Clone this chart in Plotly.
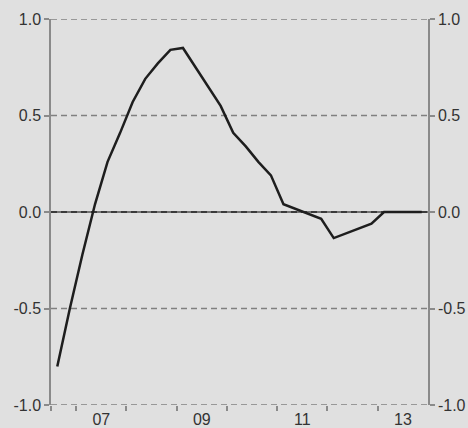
import plotly.graph_objects as go

# Quarterly observations, plotted at mid-quarter (2006 Q3 .. 2013 Q4)
start_year = 2006.625
values = [
    -0.80, -0.50, -0.22, 0.04, 0.26, 0.41, 0.57, 0.69, 0.77, 0.84,
    0.85, 0.75, 0.65, 0.55, 0.41, 0.34, 0.26, 0.19, 0.04, 0.015,
    -0.01, -0.035, -0.135, -0.11, -0.085, -0.06, 0.0, 0.0, 0.0, 0.0,
]
quarters = [start_year + 0.25 * i for i in range(len(values))]

year_ticks = [2006.5, 2007, 2008, 2009, 2010, 2011, 2012, 2013]
label_pos = [2007.5, 2009.5, 2011.5, 2013.5]
label_text = ["07", "09", "11", "13"]

y_ticks = [-1.0, -0.5, 0.0, 0.5, 1.0]
y_text = ["-1.0", "-0.5", "0.0", "0.5", "1.0"]
dashed_levels = [-1.0, -0.5, 0.5, 1.0]

bg = "#e0e0e0"
axis_col = "#8a8a8a"
grid_col = "#808080"
font = dict(family="Arial, Liberation Sans, sans-serif", size=16, color="#333333")

fig = go.Figure()
fig.add_trace(go.Scatter(
    x=quarters, y=values, mode="lines",
    line=dict(color="#1e1e1e", width=2.5),
    showlegend=False, hoverinfo="skip",
))
# invisible trace to activate the right-hand axis
fig.add_trace(go.Scatter(x=[quarters[0]], y=[0], yaxis="y2", mode="lines",
                         line=dict(width=0), showlegend=False, hoverinfo="skip"))

yaxis_common = dict(
    range=[-1, 1], tickvals=y_ticks, ticktext=y_text,
    showline=True, linecolor=axis_col, linewidth=1.5,
    ticks="outside", ticklen=5, tickcolor=axis_col, tickwidth=1.5,
    tickfont=font, zeroline=False, fixedrange=True, showgrid=False,
    automargin=False,
)

shapes = []
for lvl in dashed_levels:
    shapes.append(dict(type="line", xref="paper", yref="y", x0=0, x1=1,
                       y0=lvl, y1=lvl, layer="below",
                       line=dict(color=grid_col, width=1.5, dash="6px,4px")))
# zero line: solid grey base with darker dashes on top
shapes.append(dict(type="line", xref="paper", yref="y", x0=0, x1=1, y0=0, y1=0,
                   line=dict(color="#747474", width=2), layer="below"))
shapes.append(dict(type="line", xref="paper", yref="y", x0=0, x1=1, y0=0, y1=0,
                   line=dict(color="#3a3a3a", width=2, dash="6px,4px"), layer="below"))

fig.update_layout(
    width=468, height=428,
    margin=dict(l=51, r=40, t=19, b=23),
    paper_bgcolor=bg, plot_bgcolor=bg,
    xaxis=dict(
        range=[2006.5, 2014.0],
        tickvals=label_pos, ticktext=label_text, ticks="",
        tickfont=font, showgrid=False, zeroline=False, showline=False,
        automargin=False, fixedrange=True, ticklabelstandoff=3,
        minor=dict(tickvals=year_ticks, ticks="outside", ticklen=5,
                   tickcolor=axis_col, tickwidth=1.5, showgrid=False),
    ),
    yaxis=dict(**yaxis_common, side="left"),
    yaxis2=dict(**yaxis_common, side="right", overlaying="y"),
    shapes=shapes,
)

fig.write_html("out.html")
